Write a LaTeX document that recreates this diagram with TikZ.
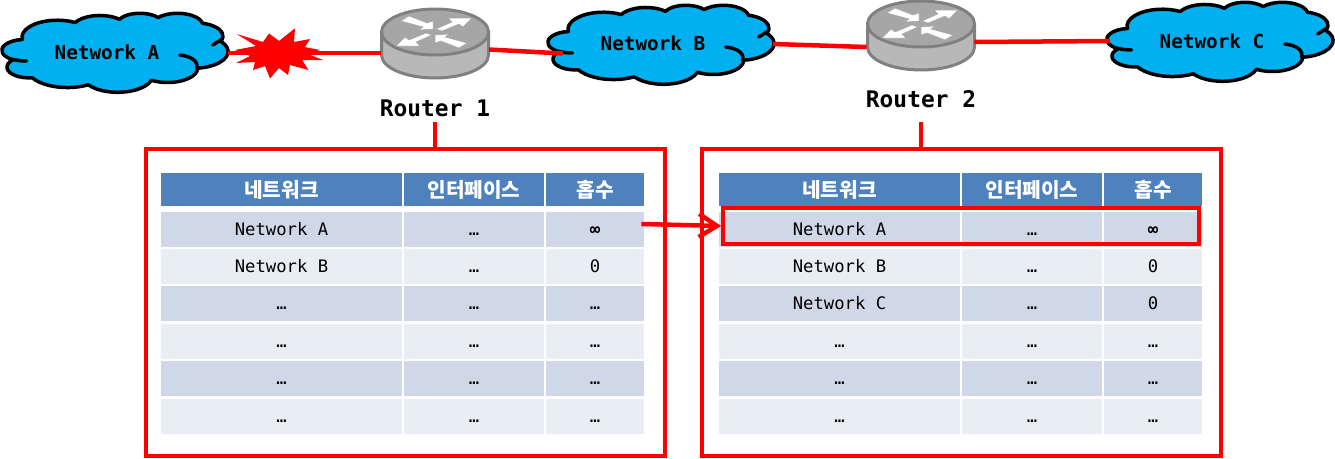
\documentclass[tikz,border=0pt]{standalone}
\usepackage{fontspec}
\setmonofont{DejaVu Sans Mono}
\newfontfamily\kofont{Noto Sans CJK KR}
\usetikzlibrary{arrows.meta, positioning, calc}
\definecolor{linkRed}{RGB}{255,0,0}
\definecolor{cloudBlue}{RGB}{0,176,240}
\definecolor{headBlue}{RGB}{79,129,189}
\definecolor{rowDark}{RGB}{208,216,232}
\definecolor{rowLight}{RGB}{233,237,244}
\definecolor{routerLine}{RGB}{128,128,128}
\definecolor{routerTop}{RGB}{166,166,166}
\definecolor{routerSide}{RGB}{184,184,184}
% one puff of the cloud outline: radii, start angle, sweep
\newcommand{\puff}[4]{arc[x radius=#1, y radius=#2,
    start angle={atan2(#1*sin(#3),#2*cos(#3))},
    delta angle={mod(atan2(#1*sin(#3+#4),#2*cos(#3+#4))-atan2(#1*sin(#3),#2*cos(#3))+720,360)}]}
\tikzset{
    netname/.style={font=\ttfamily\bfseries\fontsize{11}{13}\selectfont, inner sep=0pt},
    routername/.style={font=\ttfamily\bfseries\fontsize{13}{15}\selectfont, inner sep=0pt},
    router/.style={minimum width=21.4mm, minimum height=13.6mm, inner sep=0pt},
    headcell/.style={fill=headBlue, text=white, inner sep=0pt, minimum height=6.6mm,
                     font=\kofont\bfseries\fontsize{11.5}{13}\selectfont,
                     text height=10pt, text depth=0.8pt},
    rowcell/.style={inner sep=0pt, minimum height=7mm, text height=7pt, text depth=0pt,
                    font=\ttfamily\fontsize{9.8}{11}\selectfont},
    tabframe/.style={draw=linkRed, line width=0.8mm, minimum width=103.8mm,
                     minimum height=61.4mm, inner sep=0pt},
    hilite/.style={draw=linkRed, line width=0.75mm, minimum width=95.2mm,
                   minimum height=7.2mm, inner sep=0pt},
    link/.style={draw=linkRed, line width=0.9mm},
    netcloud/.pic={
        \begin{scope}[x=1.0463mm, y=-0.3657mm, line width=0.7mm, line join=round, line cap=round]
        \filldraw[fill=cloudBlue] (3.9,14.37)
            \puff{6.753}{9.19}{-190.487}{123.781}
            \puff{5.333}{7.267}{-144.102}{89.945}
            \puff{4.365}{5.945}{-145.808}{99.723}
            \puff{4.857}{6.595}{-130.986}{117.242}
            \puff{5.333}{7.273}{-78.709}{109.027}
            \puff{6.775}{9.22}{-46.267}{130.269}
            \puff{5.785}{7.867}{0.625}{114.033}
            \puff{6.752}{9.215}{22.452}{115.173}
            \puff{7.72}{10.543}{66.243}{75.711}
            \puff{4.36}{5.918}{-274.942}{146.736}
            \puff{4.345}{5.945}{-246.829}{152.519}
            -- cycle;
        \draw (4.693,26.177) \puff{4.345}{5.945}{86.74}{26.43};
        \draw (34,23) .. controls (36.2,23.6) and (37.6,26.6) .. (37.2,30.2);
        \draw (40.27,17.5) -- (41.99,14.4);
        \end{scope}
    },
    routerdisc/.pic={
        \begin{scope}[draw=routerLine, line width=0.6mm]
        \filldraw[fill=routerSide] (-53.5,0) -- (-53.5,23)
            arc[x radius=53.5, y radius=23, start angle=180, delta angle=-180] -- (53.5,0) -- cycle;
        \filldraw[fill=routerTop] (0,0) ellipse [x radius=53.5, y radius=23];
        \end{scope}
        \begin{scope}[draw=black!35, fill=white, line width=0.1mm, shift={(-1,0)}]
        \filldraw (-33,-11) -- (-25,-16) -- (-7,-9) -- (-1,-11) -- (-1,-3) -- (-15,-2) -- (-11,-5) -- cycle;
        \filldraw (33,11) -- (25,16) -- (7,9) -- (1,11) -- (1,3) -- (15,2) -- (11,5) -- cycle;
        \filldraw (14,-14) -- (38,-14) -- (29,-5) -- (25,-8) -- (8,-1) -- (2,-3) -- (18,-10) -- cycle;
        \filldraw (-14,14) -- (-38,14) -- (-29,5) -- (-25,8) -- (-8,1) -- (-2,3) -- (-18,10) -- cycle;
        \end{scope}
    },
}

\begin{document}
\begin{tikzpicture}[x=0.2mm, y=-0.2mm, >=Stealth]
\useasboundingbox (0,0) rectangle (1335,458);

% ─── Clouds ─────────────────────────────────────────────────────────────
\pic at (2,13)   {netcloud};
\pic at (548,5)  {netcloud};
\pic at (1107,2) {netcloud};
\node[netname] (neta) at (107,52) {Network A};
\node[netname] (netb) at (653,43) {Network B};
\node[netname] (netc) at (1212,41) {Network C};

% ─── Routers ────────────────────────────────────────────────────────────
\node[router] (rone) at (435,43.5) {};
\node[router] (rtwo) at (920.5,35) {};
\pic at (435,32) {routerdisc};
\pic at (921,24) {routerdisc};
\node[routername] (lone) at (435,108) {Router 1};
\node[routername] (ltwo) at (921,99) {Router 2};

% ─── Free ends of the links ─────────────────────────────────────────────
\coordinate (aout) at (228,53);
\coordinate (bin)  at (563,53.5);
\coordinate (bout) at (773,44);
\coordinate (cin)  at (1110,41);
\coordinate (sone) at (435,122);
\coordinate (stwo) at (921,122);

% ─── Links ──────────────────────────────────────────────────────────────
\draw[link] (aout) -- (aout -| rone.west);
\draw[link] ([yshift=-1.2mm]rone.east) -- (bin);
\draw[link] (bout) -- ([yshift=-2.4mm]rtwo.west);
\draw[link] ([yshift=-1.4mm]rtwo.east) -- (cin);

% ─── Burst on the first link ────────────────────────────────────────────
\fill[linkRed] (236.7,34) -- (263,42) -- (269,33.5) -- (279,41) -- (295,28.3) -- (294,42)
    -- (310,39) -- (305,47) -- (320,50) -- (308,54) -- (323,60) -- (302,60)
    -- (308.5,70) -- (290,65) -- (288,75) -- (279,68) -- (270,78.5) -- (265,66)
    -- (253,70) -- (255,62) -- (236,63) -- (250,56) -- (235,50) -- (256,46) -- cycle;

% ─── Frames ─────────────────────────────────────────────────────────────
\node[tabframe] (fone) at (405.5,302.5) {};
\node[tabframe] (ftwo) at (961.5,302.5) {};
\draw[link] (sone) -- (sone |- fone.north);
\draw[link] (stwo) -- (stwo |- ftwo.north);

% ─── Table heads ────────────────────────────────────────────────────────
\foreach \tb/\ox in {l/0, r/558}{
    \node[headcell, minimum width=48.2mm] (\tb h1) at ({\ox+281.5},189.5) {네트워크};
    \node[headcell, minimum width=28mm]   (\tb h2) at ({\ox+474},189.5)   {인터페이스};
    \node[headcell, minimum width=19.6mm] (\tb h3) at ({\ox+595},189.5)   {홉수};
}

% ─── Table rows ─────────────────────────────────────────────────────────
\foreach \tb/\ox/\rw/\ry/\col/\na/\hp in {
    l/0/1/229/rowDark/Network A/\textbf{∞},
    l/0/2/266/rowLight/Network B/0,
    l/0/3/303.5/rowDark/…/…,
    l/0/4/341/rowLight/…/…,
    l/0/5/378.5/rowDark/…/…,
    l/0/6/416/rowLight/…/…,
    r/558/1/229/rowDark/Network A/\textbf{∞},
    r/558/2/266/rowLight/Network B/0,
    r/558/3/303.5/rowDark/Network C/0,
    r/558/4/341/rowLight/…/…,
    r/558/5/378.5/rowDark/…/…,
    r/558/6/416/rowLight/…/…}{
    \node[rowcell, fill=\col, minimum width=48.2mm] (\tb a\rw) at ({\ox+281.5},\ry) {\na};
    \node[rowcell, fill=\col, minimum width=28mm]   (\tb b\rw) at ({\ox+474},\ry)   {…};
    \node[rowcell, fill=\col, minimum width=19.6mm] (\tb c\rw) at ({\ox+595},\ry)   {\hp};
}

% ─── Update passed on to router 2 ───────────────────────────────────────
\node[hilite] (mark) at (961,226) {};
\draw[link, -{Straight Barb[length=3.6mm, width=4.6mm]}] ([xshift=-0.6mm, yshift=1mm]lc1.east) -- (mark.west);

\end{tikzpicture}
\end{document}
